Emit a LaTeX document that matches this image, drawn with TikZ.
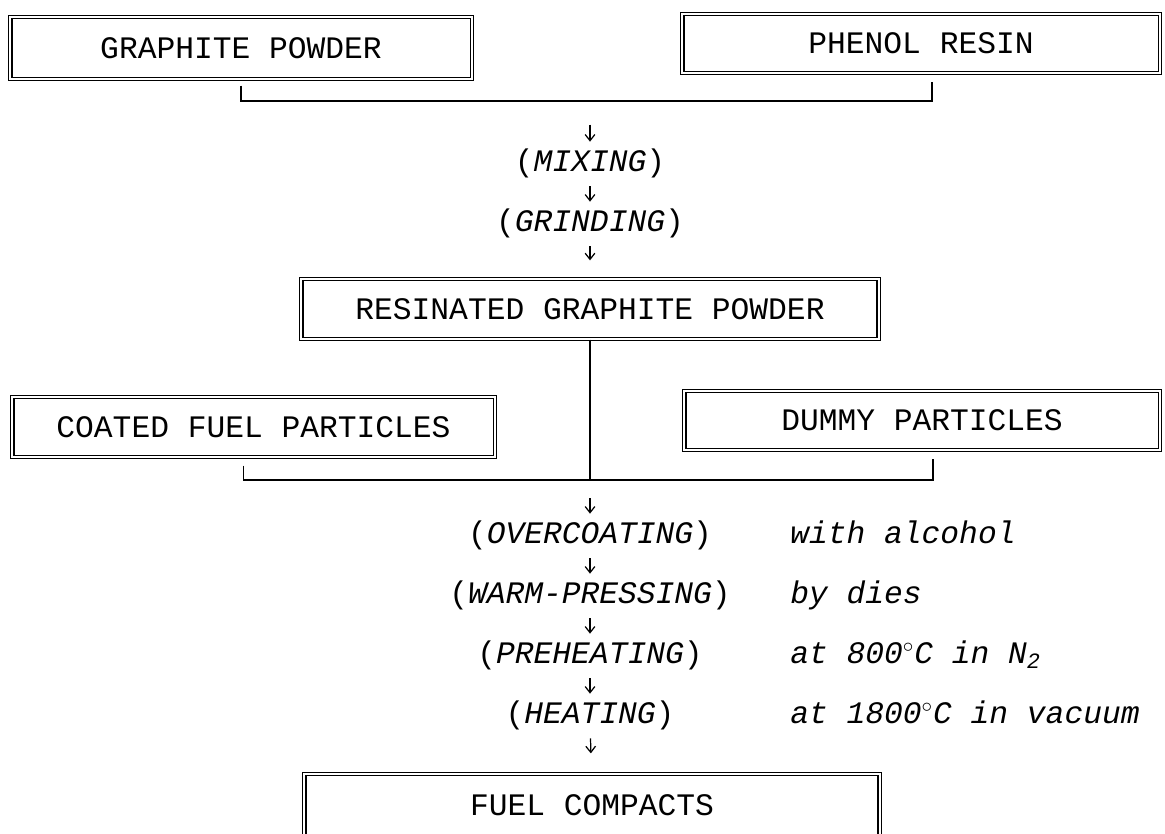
\documentclass[tikz,border=0pt]{standalone}
\usepackage{fontspec}
\setmainfont{Liberation Mono}
\usetikzlibrary{arrows.meta}
\tikzset{
  box/.style={draw=black,double,double distance=1.3pt,line width=0.75pt,inner sep=0pt,
    font=\fontsize{17.8}{20}\selectfont},
  stepname/.style={inner sep=0pt,text height=0.34cm,text depth=0pt,
    font=\fontsize{17.8}{20}\selectfont},
  note/.style={anchor=west,inner sep=0pt,text height=0.34cm,text depth=0pt,
    font=\fontsize{17.8}{20}\selectfont\itshape},
  flow/.style={-{Straight Barb[length=3.5pt,width=5.5pt]},line width=0.7pt,
    shorten <=0.29cm,shorten >=0.25cm},
  bracketline/.style={draw=black,line width=0.8pt},
}
\begin{document}
\begin{tikzpicture}[x=0.02cm,y=-0.02cm]
\useasboundingbox (0,0) rectangle (1165,833);
\node[box,minimum width=9.24cm,minimum height=1.24cm] (graphite) at (241,48) {GRAPHITE POWDER};
\node[box,minimum width=9.56cm,minimum height=1.18cm] (phenol) at (921,43.5) {PHENOL RESIN};
\node[box,minimum width=11.56cm,minimum height=1.2cm] (resin) at (590,309) {RESINATED GRAPHITE POWDER};
\node[box,minimum width=9.66cm,minimum height=1.2cm] (coated) at (253.5,427) {COATED FUEL PARTICLES};
\node[box,minimum width=9.52cm,minimum height=1.18cm] (dummy) at (922,420.5) {DUMMY PARTICLES};
\node[box,minimum width=11.52cm,minimum height=1.24cm] (compacts) at (592,805) {FUEL COMPACTS};
\coordinate (j1) at (590,101);
\coordinate (j2) at (590,480);
\node[stepname] (mix) at (590,163) {(\textit{MIXING})};
\node[stepname] (grind) at (590,223) {(\textit{GRINDING})};
\node[stepname] (overcoat) at (590,535) {(\textit{OVERCOATING})};
\node[stepname] (press) at (590,595) {(\textit{WARM-PRESSING})};
\node[stepname] (preheat) at (590,655) {(\textit{PREHEATING})};
\node[stepname] (heat) at (590,715) {(\textit{HEATING})};
\node[note] (noverc) at (790,535) {with alcohol};
\node[note] (npress) at (790,595) {by dies};
\node[note] (nprehe) at (790,655) {at 800$^{\circ}$C in N\textsubscript{2}};
\node[note] (nheat) at (790,715) {at 1800$^{\circ}$C in vacuum};
\draw[bracketline] ([yshift=-0.12cm]graphite.south) |- (j1) -| ([xshift=0.22cm,yshift=-0.16cm]phenol.south);
\draw[bracketline] ([xshift=-0.2cm,yshift=-0.16cm]coated.south) |- (j2) -| ([xshift=0.22cm,yshift=-0.16cm]dummy.south);
\draw[bracketline] (resin.south) -- (j2);
\draw[flow,shorten <=0.47cm] (j1) -- (mix);
\draw[flow] (mix) -- (grind);
\draw[flow,shorten >=0.36cm] (grind) -- (resin);
\draw[flow,shorten <=0.36cm] (j2) -- (overcoat);
\draw[flow] (overcoat) -- (press);
\draw[flow] (press) -- (preheat);
\draw[flow] (preheat) -- (heat);
\draw[flow,shorten >=0.4cm] (heat) -- (compacts);
\end{tikzpicture}
\end{document}
